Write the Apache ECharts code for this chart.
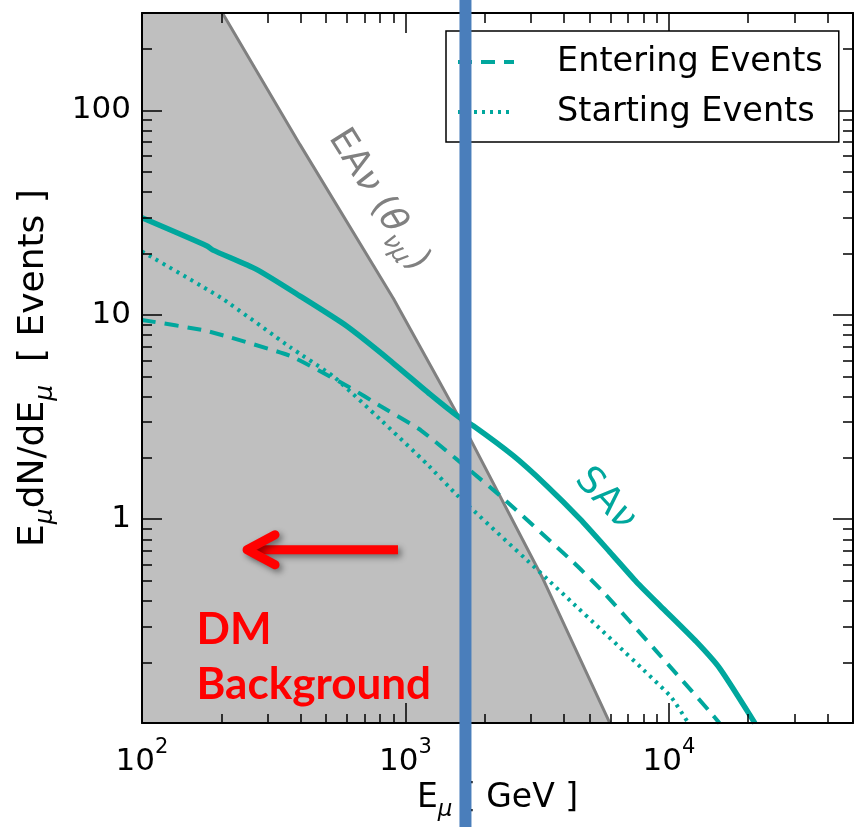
<!DOCTYPE html>
<html><head><meta charset="utf-8">
<script src="https://cdn.jsdelivr.net/npm/echarts@6/dist/echarts.min.js"></script>
<style>html,body{margin:0;padding:0;background:#fff}#c{width:854px;height:827px}</style>
</head><body><div id="c"></div>
<script>
// ---------- data ----------
const xRange = [100, 50000];
const yRange = [0.1, 300];
const xMajorTicks = [100, 1000, 10000];
const xMinorTicks = [200,300,400,500,600,700,800,900,2000,3000,4000,5000,6000,7000,8000,9000,20000,30000,40000];
const yMajorTicks = [1, 10, 100];
const yMinorTicks = [0.2,0.3,0.4,0.5,0.6,0.7,0.8,0.9,2,3,4,5,6,7,8,9,20,30,40,50,60,70,80,90,200];

// EA_nu(theta) boundary (grey line)
const eaE = [202, 398, 900, 1330, 1596, 3327, 5970];
const eaV = [300, 68, 12, 4.83, 3.15, 0.509, 0.1];
// shaded background region: top edge of the plot, then the EA boundary
const bgE = [100, 202, 398, 900, 1330, 1596, 3327, 5970];
const bgV = [300, 300, 68, 12, 4.83, 3.15, 0.509, 0.1];
// SA_nu (solid)
const saE = [100, 176.5, 186, 272, 398, 598, 873, 1239, 1596, 1808, 2566, 3435, 4595, 5972, 7541, 9515, 12740, 15620, 21210];
const saV = [29.8, 21.7, 20.7, 16.66, 12.33, 8.80, 5.98, 4.08, 3.15, 2.857, 2.038, 1.454, 1.0, 0.688, 0.4905, 0.3633, 0.2497, 0.1849, 0.1];
// Entering events (dashed)
const enE = [100, 176, 365, 615, 800, 1151, 2285, 4335, 5637, 8925, 14320, 15560];
const enV = [9.42, 8.32, 6.28, 4.40, 3.58, 2.70, 1.30, 0.614, 0.438, 0.2265, 0.1136, 0.1];
// Starting events (dotted)
const stE = [100, 201, 365, 531, 800, 1207, 1568, 3444, 10090, 11810];
const stV = [20.4, 12.02, 6.93, 5.00, 3.08, 1.857, 1.31, 0.509, 0.1365, 0.1007];
// vertical marker energy
const markerE = [1690];

const seriesNames = ['Entering Events', 'Starting Events'];

function pairs(xs, ys) { return xs.map((x, i) => [x, ys[i]]); }

// ---------- styling ----------
const FONT = 'DejaVu Sans';
const TEAL = '#00a79d';
const GRAY = '#808080';
const FILL = '#bfbfbf';

const chart = echarts.init(document.getElementById('c'), null, {renderer: 'canvas'});

function xAx(grid, pos, ticks, len, main, labels) {
  return {
    type: 'log', logBase: 10, gridIndex: grid, position: pos, min: xRange[0], max: xRange[1], z: 10,
    axisLine: {show: main, onZero: false, lineStyle: {color: '#000', width: 2}},
    axisTick: {show: true, inside: true, length: len, customValues: ticks, lineStyle: {color: '#000', width: 1.5}},
    axisLabel: labels ? {
      show: true, customValues: ticks, margin: 14,
      formatter: v => '{b|10}{s|' + Math.round(Math.log10(v)) + '}',
      rich: {
        b: {fontFamily: FONT, fontSize: 31, color: '#000', lineHeight: 40, verticalAlign: 'bottom'},
        s: {fontFamily: FONT, fontSize: 21, color: '#000', lineHeight: 21, verticalAlign: 'top'}
      }
    } : {show: false},
    splitLine: {show: false}, minorTick: {show: false}, minorSplitLine: {show: false}
  };
}
function yAx(grid, pos, ticks, len, main, labels) {
  return {
    type: 'log', logBase: 10, gridIndex: grid, position: pos, min: yRange[0], max: yRange[1], z: 10,
    axisLine: {show: main, onZero: false, lineStyle: {color: '#000', width: 2}},
    axisTick: {show: true, inside: true, length: len, customValues: ticks, lineStyle: {color: '#000', width: 1.5}},
    axisLabel: labels ? {
      show: true, customValues: ticks, margin: 11,
      fontFamily: FONT, fontSize: 31, color: '#000',
      formatter: v => String(v)
    } : {show: false},
    splitLine: {show: false}, minorTick: {show: false}, minorSplitLine: {show: false}
  };
}

const xAxes = [
  xAx(0, 'bottom', xMajorTicks, 20, true, true),
  xAx(0, 'top', xMajorTicks, 20, true, false),
  xAx(1, 'bottom', xMinorTicks, 10, false, false),
  xAx(1, 'top', xMinorTicks, 10, false, false)
];
xAxes[0].name = '{n|E}{s|μ}{n| [ GeV ]}';
xAxes[0].nameLocation = 'middle';
xAxes[0].nameGap = 56;
xAxes[0].nameTextStyle = {
  fontFamily: FONT, fontSize: 33, color: '#000',
  rich: {
    n: {fontFamily: FONT, fontSize: 33, color: '#000', lineHeight: 40, verticalAlign: 'top'},
    s: {fontFamily: FONT, fontSize: 23, fontStyle: 'italic', color: '#000', lineHeight: 23, verticalAlign: 'bottom'}
  }
};
const yAxes = [
  yAx(0, 'left', yMajorTicks, 20, true, true),
  yAx(0, 'right', yMajorTicks, 20, true, false),
  yAx(1, 'left', yMinorTicks, 10, false, false),
  yAx(1, 'right', yMinorTicks, 10, false, false)
];
yAxes[0].name = '{n|E}{s|μ}{n|dN/dE}{s|μ}{n|  [ Events ]}';
yAxes[0].nameLocation = 'middle';
yAxes[0].nameGap = 84;
yAxes[0].nameTextStyle = {
  fontFamily: FONT, fontSize: 36, color: '#000',
  rich: {
    n: {fontFamily: FONT, fontSize: 36, color: '#000', lineHeight: 42, verticalAlign: 'top'},
    s: {fontFamily: FONT, fontSize: 25, fontStyle: 'italic', color: '#000', lineHeight: 25, verticalAlign: 'bottom'}
  }
};

const gridRect = {left: 142, top: 13, width: 711, height: 711};

const option = {
  animation: false,
  backgroundColor: '#fff',
  grid: [Object.assign({}, gridRect), Object.assign({}, gridRect)],
  xAxis: xAxes,
  yAxis: yAxes,
  legend: {
    data: [
      {name: seriesNames[0], lineStyle: {width: 4, type: [14, 9], color: TEAL}},
      {name: seriesNames[1], lineStyle: {width: 4, type: [3, 5], color: TEAL}}
    ],
    orient: 'vertical', left: 446, top: 31,
    backgroundColor: '#fff', borderColor: '#000', borderWidth: 1.5, borderRadius: 0,
    padding: [14, 16, 13, 10],
    itemWidth: 56, itemHeight: 12, itemGap: 16,
    itemStyle: {opacity: 0},
    textStyle: {fontFamily: FONT, fontSize: 33.5, color: '#000', padding: [0, 0, 0, 38]},
    z: 20
  },
  series: [
    {
      name: 'bg', type: 'line', xAxisIndex: 0, yAxisIndex: 0, data: pairs(bgE, bgV),
      symbol: 'none', smooth: false, lineStyle: {width: 0, opacity: 0}, areaStyle: {color: FILL, opacity: 1, origin: 'start'},
      z: 1, silent: true
    },
    {
      name: 'EA', type: 'line', xAxisIndex: 0, yAxisIndex: 0, data: pairs(eaE, eaV),
      symbol: 'none', smooth: false, lineStyle: {color: GRAY, width: 3}, z: 2
    },
    {
      name: 'SA', type: 'line', xAxisIndex: 0, yAxisIndex: 0, data: pairs(saE, saV),
      symbol: 'none', smooth: 0.2, lineStyle: {color: TEAL, width: 5.5}, z: 3
    },
    {
      name: seriesNames[0], type: 'line', xAxisIndex: 0, yAxisIndex: 0, data: pairs(enE, enV),
      symbol: 'none', smooth: 0.15, color: TEAL, lineStyle: {color: TEAL, width: 4, type: [14, 9]}, z: 3
    },
    {
      name: seriesNames[1], type: 'line', xAxisIndex: 0, yAxisIndex: 0, data: pairs(stE, stV),
      symbol: 'none', smooth: 0.15, color: TEAL, lineStyle: {color: TEAL, width: 4, type: [3, 5]}, z: 3
    }
  ]
};
chart.setOption(option);

// ---------- annotations anchored in data space ----------
const toPx = (x, y) => chart.convertToPixel({xAxisIndex: 0, yAxisIndex: 0}, [x, y]);
const H = 827;
const mk = toPx(markerE[0], 1);
const arrowTip = toPx(244, 0.706);
const arrowTail = toPx(937, 0.706);
const eaLab = toPx(773, 35.8);
const saLab = toPx(5624, 1.224);
const dmPos = toPx(161, 0.287);
const bgPos = toPx(161, 0.1545);

const RED = '#ff0000';
const shadow = {shadowColor: 'rgba(0,0,0,0.45)', shadowBlur: 6, shadowOffsetX: 3, shadowOffsetY: 3};

chart.setOption({
  graphic: [
    {
      type: 'line', z: 30,
      shape: {x1: arrowTail[0], y1: arrowTail[1], x2: arrowTip[0] + 6, y2: arrowTip[1]},
      style: Object.assign({stroke: RED, lineWidth: 9, lineCap: 'butt'}, shadow)
    },
    {
      type: 'polyline', z: 30,
      shape: {points: [[arrowTip[0] + 31, arrowTip[1] - 15], [arrowTip[0] + 3, arrowTip[1]], [arrowTip[0] + 31, arrowTip[1] + 15]]},
      style: Object.assign({stroke: RED, fill: null, lineWidth: 9, lineCap: 'round', lineJoin: 'round'}, shadow)
    },
    {
      type: 'text', z: 30, x: dmPos[0], y: dmPos[1],
      style: {text: 'DM', fill: RED, font: 'bold 44px Lato', align: 'left', verticalAlign: 'middle'}
    },
    {
      type: 'text', z: 30, x: bgPos[0], y: bgPos[1],
      style: {text: 'Background', fill: RED, font: 'bold 44px Lato', align: 'left', verticalAlign: 'middle'}
    },
    {
      type: 'text', z: 30, x: eaLab[0], y: eaLab[1], rotation: -58 * Math.PI / 180,
      style: {
        text: '{n|EA}{i|ν}{n| (}{i|θ}{s|νμ}{n|)}', align: 'center', verticalAlign: 'middle',
        rich: {
          n: {fontFamily: FONT, fontSize: 36, fill: GRAY, lineHeight: 42, verticalAlign: 'top'},
          i: {fontFamily: FONT, fontSize: 36, fontStyle: 'italic', fill: GRAY, lineHeight: 42, verticalAlign: 'top'},
          s: {fontFamily: FONT, fontSize: 25, fontStyle: 'italic', fill: GRAY, lineHeight: 25, verticalAlign: 'bottom'}
        }
      }
    },
    {
      type: 'text', z: 30, x: saLab[0], y: saLab[1], rotation: -47 * Math.PI / 180,
      style: {
        text: '{n|SA}{i|ν}', align: 'center', verticalAlign: 'middle',
        rich: {
          n: {fontFamily: FONT, fontSize: 37, fill: TEAL, lineHeight: 42, verticalAlign: 'top'},
          i: {fontFamily: FONT, fontSize: 37, fontStyle: 'italic', fill: TEAL, lineHeight: 42, verticalAlign: 'top'}
        }
      }
    },
    {
      type: 'rect', z: 100,
      shape: {x: mk[0] - 6, y: 0, width: 12, height: H},
      style: {fill: '#4a7ebb'}
    }
  ]
});
</script>
</body></html>
